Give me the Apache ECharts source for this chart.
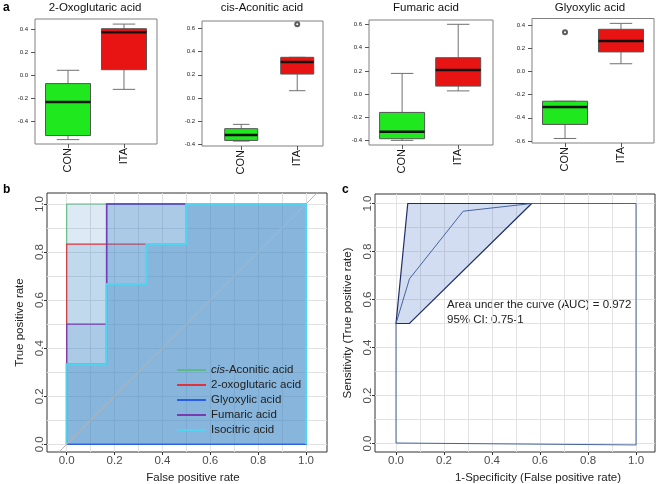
<!DOCTYPE html>
<html>
<head>
<meta charset="utf-8">
<script src="https://cdn.jsdelivr.net/npm/echarts@6/dist/echarts.min.js"></script>
<style>
  html, body { margin: 0; padding: 0; background: #fff; }
  #chart { width: 657px; height: 484px; }
</style>
</head>
<body>
<div id="chart"></div>
<script>
// panel a: box statistics [min, q1, median, q3, max] for CON, ITA
const groups = ['CON', 'ITA'];
const oxoBox = [[-0.555, -0.52, -0.23, -0.07, 0.045], [-0.12, 0.05, 0.375, 0.405, 0.445]];
const cisBox = [[-0.37, -0.364, -0.318, -0.263, -0.226], [0.063, 0.206, 0.31, 0.35, 0.35]];
const fumBox = [[-0.397, -0.383, -0.323, -0.157, 0.178], [0.028, 0.069, 0.207, 0.313, 0.60]];
const glyBox = [[-0.578, -0.457, -0.306, -0.257, -0.257], [0.066, 0.168, 0.262, 0.363, 0.414]];
// outliers [group position, value]
const cisOut = [[2, 0.635]];
const glyOut = [[1, 0.337]];
// y tick labels
const oxoTicks = [-0.4, -0.2, 0, 0.2, 0.4];
const cisTicks = [-0.4, -0.2, 0, 0.2, 0.4, 0.6];
const fumTicks = [-0.4, -0.2, 0, 0.2, 0.4, 0.6];
const glyTicks = [-0.6, -0.4, -0.2, 0, 0.2, 0.4];

// panel b: ROC curves (false positive rate, true positive rate)
const rocNames = ['cis-Aconitic acid', '2-oxoglutaric acid', 'Glyoxylic acid', 'Fumaric acid', 'Isocitric acid'];
const cisFpr = [0, 0, 1];
const cisTpr = [0, 1, 1];
const oxoFpr = [0, 0, 0.5, 0.5, 1];
const oxoTpr = [0, 0.833, 0.833, 1, 1];
const glyFpr = [0, 0, 0.167, 0.167, 1];
const glyTpr = [0, 0.333, 0.333, 1, 1];
const fumFpr = [0, 0, 0.167, 0.167, 1];
const fumTpr = [0, 0.5, 0.5, 1, 1];
const isoFpr = [0, 0, 0.167, 0.167, 0.333, 0.333, 0.5, 0.5, 1];
const isoTpr = [0, 0.333, 0.333, 0.667, 0.667, 0.833, 0.833, 1, 1];
const diagX = [-0.1, 1.1];

// panel c: combined ROC and its confidence band
const rocCFpr = [0, 0, 0.056, 0.28, 0.565, 1, 1, 0];
const rocCTpr = [0.002, 0.5, 0.686, 0.968, 1, 1, -0.006, 0.002];
const ciFpr = [0, 0.049, 0.565, 0.056];
const ciTpr = [0.5, 1, 1, 0.5];

const rocTicks = [0, 0.2, 0.4, 0.6, 0.8, 1.0];
const rocGridVals = [0, 0.1, 0.2, 0.3, 0.4, 0.5, 0.6, 0.7, 0.8, 0.9, 1.0];

const FONT = 'Liberation Sans';
const boxFill = ['#1fe81f', '#e81414'];
const rocFill = 'rgba(67,136,199,0.18)';

const boxPanels = [
    { title: '2-Oxoglutaric acid', stats: oxoBox, out: [], ticks: oxoTicks, yMin: -0.593, yMax: 0.489, xMin: 0.41, xMax: 2.59, grid: { left: 35, top: 19, width: 122, height: 125 }, tx: 95, boxW: 45 },
    { title: 'cis-Aconitic acid', stats: cisBox, out: cisOut, ticks: cisTicks, yMin: -0.412, yMax: 0.662, xMin: 0.30, xMax: 2.46, grid: { left: 202, top: 21, width: 121, height: 125 }, tx: 262, boxW: 33 },
    { title: 'Fumaric acid', stats: fumBox, out: [], ticks: fumTicks, yMin: -0.437, yMax: 0.637, xMin: 0.41, xMax: 2.62, grid: { left: 369, top: 20, width: 124, height: 125 }, tx: 426, boxW: 45 },
    { title: 'Glyoxylic acid', stats: glyBox, out: glyOut, ticks: glyTicks, yMin: -0.617, yMax: 0.456, xMin: 0.41, xMax: 2.59, grid: { left: 532, top: 18.5, width: 122, height: 124.5 }, tx: 590, boxW: 45 }
];

// 箱线图自定义绘制
function renderBox(boxW) {
    return function (params, api) {
        const x = api.value(0);
        const lo = api.coord([x, api.value(1)]);
        const q1 = api.coord([x, api.value(2)]);
        const md = api.coord([x, api.value(3)]);
        const q3 = api.coord([x, api.value(4)]);
        const hi = api.coord([x, api.value(5)]);
        const cx = md[0], h = boxW / 2, cap = boxW / 4;
        const wStyle = { stroke: '#707070', lineWidth: 1 };
        return {
            type: 'group',
            children: [
                { type: 'line', shape: { x1: cx, y1: q3[1], x2: cx, y2: hi[1] }, style: wStyle },
                { type: 'line', shape: { x1: cx, y1: q1[1], x2: cx, y2: lo[1] }, style: wStyle },
                { type: 'line', shape: { x1: cx - cap, y1: hi[1], x2: cx + cap, y2: hi[1] }, style: wStyle },
                { type: 'line', shape: { x1: cx - cap, y1: lo[1], x2: cx + cap, y2: lo[1] }, style: wStyle },
                { type: 'rect', shape: { x: cx - h, y: q3[1], width: boxW, height: q1[1] - q3[1] }, style: { fill: boxFill[params.dataIndex], stroke: '#555', lineWidth: 1 } },
                { type: 'line', shape: { x1: cx - h, y1: md[1], x2: cx + h, y2: md[1] }, style: { stroke: '#111', lineWidth: 2.5 } }
            ]
        };
    };
}

// ROC 曲线（填充 + 折线）
function rocSeries(name, fpr, tpr, color, width, closeN) {
    const pts = fpr.map((x, i) => [x, tpr[i]]);
    const closing = [[1, 0], [0, 0]];
    return {
        name: name, type: 'custom', xAxisIndex: 4, yAxisIndex: 4,
        itemStyle: { color: color },
        data: pts,
        renderItem: function (params, api) {
            if (params.dataIndex !== 0) return null;
            const ring = pts.concat(closing).map(p => api.coord(p));
            const line = pts.concat(closing.slice(0, closeN)).map(p => api.coord(p));
            return {
                type: 'group',
                children: [
                    { type: 'polygon', shape: { points: ring }, style: { fill: rocFill } },
                    { type: 'polyline', shape: { points: line }, style: { stroke: color, lineWidth: width, fill: null } }
                ]
            };
        }
    };
}

const fmt1 = v => v.toFixed(1);

const grids = [], xAxes = [], yAxes = [], series = [], graphics = [];

boxPanels.forEach((p, i) => {
    grids.push(Object.assign({ show: true, borderColor: '#808080', borderWidth: 1, outerBoundsMode: 'none' }, p.grid));
    xAxes.push({
        gridIndex: i, type: 'value', min: p.xMin, max: p.xMax, position: 'bottom',
        axisLine: { show: false, onZero: false }, splitLine: { show: false },
        axisTick: { customValues: [1, 2], length: 4, lineStyle: { color: '#555' } },
        axisLabel: { customValues: [1, 2], formatter: v => groups[Math.round(v) - 1], rotate: 90, fontSize: 11, color: '#111', margin: 4, fontFamily: FONT }
    });
    yAxes.push({
        gridIndex: i, type: 'value', min: p.yMin, max: p.yMax, position: 'left',
        axisLine: { show: false, onZero: false }, splitLine: { show: false },
        axisTick: { customValues: p.ticks, length: 4, lineStyle: { color: '#555' } },
        axisLabel: { customValues: p.ticks, formatter: fmt1, fontSize: 6, color: '#222', margin: 7, fontFamily: FONT }
    });
    series.push({
        type: 'custom', xAxisIndex: i, yAxisIndex: i,
        data: p.stats.map((s, k) => [k + 1].concat(s)),
        renderItem: renderBox(p.boxW)
    });
    if (p.out.length) {
        series.push({
            type: 'scatter', xAxisIndex: i, yAxisIndex: i, data: p.out,
            symbol: 'emptyCircle', symbolSize: 4,
            itemStyle: { color: '#333', borderWidth: 0.8 }
        });
    }
    graphics.push({
        type: 'text', x: p.tx, y: 8,
        style: { text: p.title, font: '11.5px ' + FONT, fill: '#111', align: 'center', verticalAlign: 'middle' }
    });
});

// ROC panels b (grid 4) and c (grid 5)
const rocPanels = [
    { grid: { left: 47, top: 193, width: 280, height: 259 }, xMin: -0.0823, xMax: 1.0878, yMin: -0.032, yMax: 1.0458,
      xName: 'False positive rate', yName: 'True positive rate', xPad: 12 },
    { grid: { left: 375, top: 194, width: 280, height: 258 }, xMin: -0.0875, xMax: 1.079, yMin: -0.0354, yMax: 1.0396,
      xName: '1-Specificity (False positive rate)', yName: 'Sensitivity (True positive rate)', xPad: 46 }
];

rocPanels.forEach((p, k) => {
    const gi = 4 + k;
    grids.push(Object.assign({ show: true, borderColor: '#333', borderWidth: 1, outerBoundsMode: 'none' }, p.grid));
    // main axes: ticks, labels, titles
    xAxes.push({
        gridIndex: gi, type: 'value', min: p.xMin, max: p.xMax, position: 'bottom',
        axisLine: { show: false, onZero: false }, splitLine: { show: false },
        axisTick: { customValues: rocTicks, length: 3, lineStyle: { color: '#333' } },
        axisLabel: { customValues: rocTicks, formatter: fmt1, fontSize: 11.5, color: '#4d4d4d', margin: 3, fontFamily: FONT },
        name: p.xName, nameLocation: 'middle', nameGap: 17,
        nameTextStyle: { fontSize: 11.5, color: '#222', fontFamily: FONT, padding: [0, 0, 0, p.xPad] }
    });
    yAxes.push({
        gridIndex: gi, type: 'value', min: p.yMin, max: p.yMax, position: 'left',
        axisLine: { show: false, onZero: false }, splitLine: { show: false },
        axisTick: { customValues: rocTicks, length: 3, lineStyle: { color: '#333' } },
        axisLabel: { customValues: rocTicks, formatter: fmt1, rotate: 90, fontSize: 11.5, color: '#4d4d4d', margin: 1, fontFamily: FONT },
        name: p.yName, nameLocation: 'middle', nameGap: 21,
        nameTextStyle: { fontSize: 11.5, color: '#222', fontFamily: FONT }
    });
});
// grid-line axes
rocPanels.forEach((p, k) => {
    const gi = 4 + k;
    const gl = { show: true, lineStyle: { color: '#e2e2e2', width: 1 } };
    xAxes.push({
        gridIndex: gi, type: 'value', min: p.xMin, max: p.xMax, position: 'top',
        axisLine: { show: false, onZero: false }, axisLabel: { show: false },
        axisTick: { show: false, customValues: rocGridVals }, splitLine: gl
    });
    yAxes.push({
        gridIndex: gi, type: 'value', min: p.yMin, max: p.yMax, position: 'right',
        axisLine: { show: false, onZero: false }, axisLabel: { show: false },
        axisTick: { show: false, customValues: rocGridVals }, splitLine: gl
    });
});

// panel b series
series.push({
    type: 'line', xAxisIndex: 4, yAxisIndex: 4, data: diagX.map(v => [v, v]),
    showSymbol: false, clip: true, silent: true,
    lineStyle: { color: '#b5b5b5', width: 1 }
});
series.push(rocSeries(rocNames[0], cisFpr, cisTpr, '#5dbb84', 1.1, 0));
series.push(rocSeries(rocNames[1], oxoFpr, oxoTpr, '#e0323c', 1.1, 0));
series.push(rocSeries(rocNames[2], glyFpr, glyTpr, '#2a5ee8', 1.6, 2));
series.push(rocSeries(rocNames[3], fumFpr, fumTpr, '#7a3ab0', 1.1, 0));
series.push(rocSeries(rocNames[4], isoFpr, isoTpr, '#52d3f0', 2.2, 1));

// panel c series
series.push({
    type: 'line', xAxisIndex: 5, yAxisIndex: 5,
    data: rocCFpr.map((x, i) => [x, rocCTpr[i]]),
    showSymbol: false, lineStyle: { color: '#46639c', width: 1 }
});
const ciPts = ciFpr.map((x, i) => [x, ciTpr[i]]);
series.push({
    type: 'custom', xAxisIndex: 5, yAxisIndex: 5, data: ciPts,
    renderItem: function (params, api) {
        if (params.dataIndex !== 0) return null;
        return {
            type: 'polygon',
            shape: { points: ciPts.map(p => api.coord(p)) },
            style: { fill: 'rgba(80,120,200,0.25)', stroke: '#1f2f66', lineWidth: 1.2 }
        };
    }
});

// panel letters and AUC text
[['a', 3, 8], ['b', 3, 190], ['c', 342, 190]].forEach(t => {
    graphics.push({ type: 'text', x: t[1], y: t[2], style: { text: t[0], font: 'bold 12px ' + FONT, fill: '#000', verticalAlign: 'middle' } });
});
graphics.push({ type: 'text', x: 447, y: 305, style: { text: 'Area under the curve (AUC) = 0.972', font: '11.5px ' + FONT, fill: '#222', verticalAlign: 'middle' } });
graphics.push({ type: 'text', x: 447, y: 319.5, style: { text: '95% CI: 0.75-1', font: '11.5px ' + FONT, fill: '#222', verticalAlign: 'middle' } });

const chart = echarts.init(document.getElementById('chart'));
chart.setOption({
    animation: false,
    textStyle: { fontFamily: FONT },
    grid: grids,
    xAxis: xAxes,
    yAxis: yAxes,
    legend: {
        data: rocNames, orient: 'vertical', left: 172, top: 358,
        icon: 'rect', itemWidth: 29, itemHeight: 2, itemGap: 1, selectedMode: false,
        formatter: name => name === 'cis-Aconitic acid' ? '{i|cis}-Aconitic acid' : name,
        textStyle: {
            fontSize: 11.5, color: '#222', lineHeight: 14, fontFamily: FONT,
            rich: { i: { fontStyle: 'italic', fontSize: 11.5, color: '#222', fontFamily: FONT } }
        }
    },
    graphic: graphics,
    series: series
});
</script>
</body>
</html>
